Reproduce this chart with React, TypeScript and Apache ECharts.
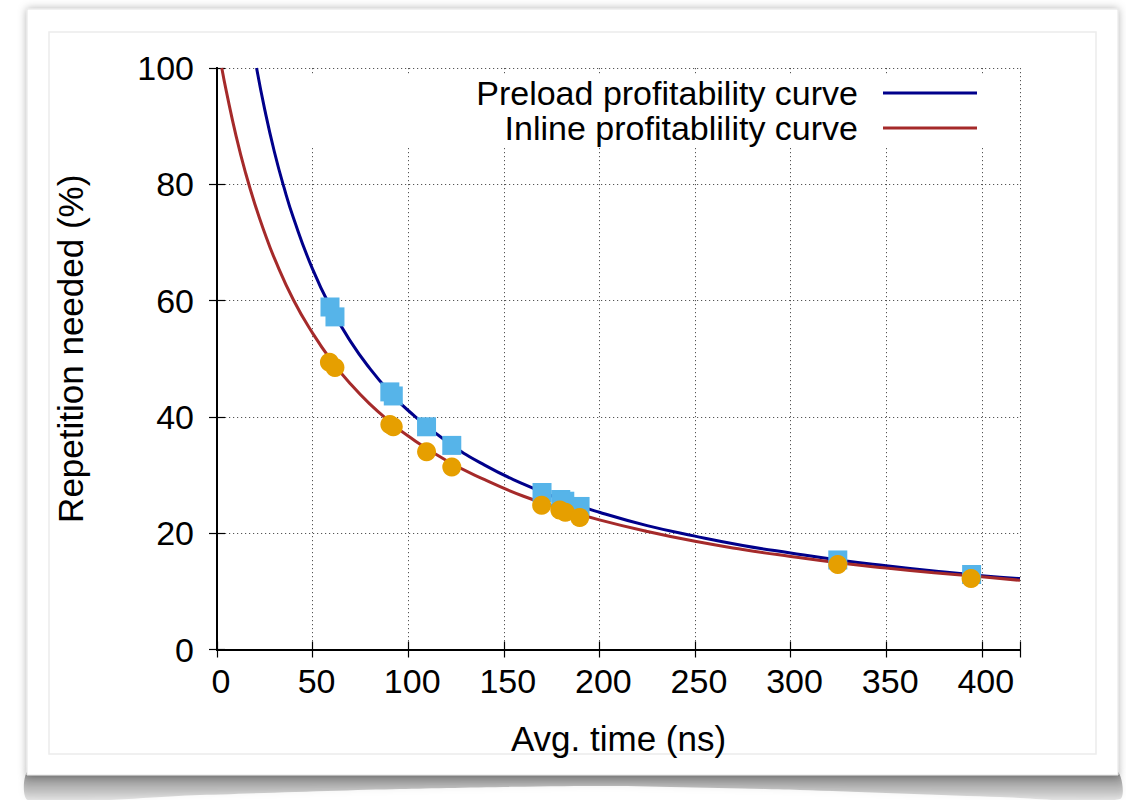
import React, { useEffect, useRef } from "react";
import * as echarts from "echarts";

// Profitability curves (x: avg. time in ns, y: repetition needed in %)
const preloadCurveX = [20.7, 25, 30, 35, 40, 50, 60, 70, 80, 90, 100, 120, 140, 160, 180, 200, 225, 250, 275, 300, 325, 350, 375, 400, 420];
const preloadCurveY = [100, 92.8, 85.6, 79.5, 74.2, 65.4, 58.5, 52.9, 48.3, 44.4, 41.1, 35.8, 31.7, 28.5, 25.8, 23.6, 21.3, 19.5, 17.9, 16.6, 15.4, 14.4, 13.5, 12.7, 12.2];
const inlineCurveX = [2.5, 5, 10, 15, 20, 25, 30, 40, 50, 60, 70, 80, 90, 100, 120, 140, 160, 180, 200, 225, 250, 275, 300, 325, 350, 375, 400, 420];
const inlineCurveY = [100, 95.8, 88.3, 81.9, 76.4, 71.6, 67.3, 60.1, 54.4, 49.6, 45.6, 42.2, 39.3, 36.7, 32.5, 29.2, 26.4, 24.2, 22.3, 20.3, 18.6, 17.2, 16.0, 14.9, 14.0, 13.2, 12.5, 11.9];

// Measured points
const preloadTimes = [59.1, 61.7, 90.4, 92.2, 109.6, 122.8, 170.0, 179.8, 181.9, 189.9, 324.7, 394.7];
const preloadNeeded = [58.9, 57.2, 44.3, 43.6, 38.3, 35.1, 27.0, 25.8, 25.5, 24.6, 15.4, 12.9];
const inlineTimes = [58.8, 61.7, 90.4, 92.2, 109.6, 122.8, 169.8, 179.3, 182.2, 189.7, 324.7, 394.4];
const inlineNeeded = [49.4, 48.5, 38.7, 38.3, 34.0, 31.4, 24.8, 24.0, 23.6, 22.7, 14.6, 12.2];

const seriesNames = ["Preload profitability curve", "Inline profitablility curve"];
const xRange = { min: 0, max: 420, step: 50 };
const yRange = { min: 0, max: 100, step: 20 };

const FONT = "'Liberation Sans', Arial, Helvetica, sans-serif";

const zip = (xs: number[], ys: number[]) => xs.map((x, i) => [x, ys[i]]);

export default function App() {
  const ref = useRef<HTMLDivElement>(null);

  useEffect(() => {
    document.body.style.margin = "0";
    const chart = echarts.init(ref.current!, undefined, { renderer: "svg" });

    const gridDash = { color: "#555", width: 1, type: [1.2, 2.8] as number[] };
    const frameLine = { show: true, lineStyle: { color: "#000", width: 2 } };
    const innerTick = { show: true, inside: true, length: 8, lineStyle: { color: "#000", width: 1.2 } };

    chart.setOption({
      animation: false,
      backgroundColor: "#fff",
      textStyle: { fontFamily: FONT },
      graphic: [
        {
          type: "polygon",
          z: -30,
          silent: true,
          shape: {
            points: [
              [30, 770], [1115, 770], [1120, 799], [1000, 797], [800, 790],
              [600, 786], [400, 789], [200, 795], [28, 800],
            ],
            smooth: 0.25,
          },
          style: {
            fill: new echarts.graphic.LinearGradient(0, 0, 0, 1, [
              { offset: 0, color: "rgba(0,0,0,0.5)" },
              { offset: 1, color: "rgba(0,0,0,0.08)" },
            ]),
            shadowBlur: 6,
            shadowColor: "rgba(0,0,0,0.25)",
          },
        },
        {
          type: "rect",
          z: -20,
          silent: true,
          shape: { x: 27, y: 9, width: 1091, height: 766 },
          style: {
            fill: "#fff",
            stroke: "#e4e4e4",
            lineWidth: 1,
            shadowBlur: 8,
            shadowColor: "rgba(0,0,0,0.3)",
          },
        },
        {
          type: "rect",
          z: -10,
          silent: true,
          shape: { x: 49, y: 32, width: 1047, height: 722 },
          style: { fill: "none", stroke: "#ececec", lineWidth: 1.5 },
        },
      ],
      grid: { left: 217, top: 68, width: 803, height: 581.5, containLabel: false },
      legend: {
        data: seriesNames,
        orient: "vertical",
        align: "right",
        right: 111,
        top: 76,
        icon: "rect",
        itemWidth: 94,
        itemHeight: 3,
        itemGap: 1,
        padding: [0, 38, 2, 176],
        backgroundColor: "#fff",
        selectedMode: false,
        textStyle: {
          fontFamily: FONT,
          fontSize: 34,
          color: "#000",
          lineHeight: 34,
          padding: [0, 20, 0, 0],
        },
      },
      xAxis: [
        {
          type: "value",
          position: "bottom",
          min: xRange.min,
          max: xRange.max,
          interval: xRange.step,
          axisLine: frameLine,
          axisTick: innerTick,
          splitLine: { show: true, lineStyle: gridDash },
          axisLabel: {
            fontFamily: FONT,
            fontSize: 34,
            color: "#000",
            margin: 14,
            padding: [0, 0, 0, 8],
            formatter: (v: number) => (v % xRange.step === 0 ? String(v) : ""),
          },
          name: "Avg. time (ns)",
          nameLocation: "middle",
          nameGap: 72,
          nameTextStyle: { fontFamily: FONT, fontSize: 35, color: "#000", lineHeight: 34 },
        },
        {
          type: "value",
          position: "top",
          min: xRange.min,
          max: xRange.max,
          interval: xRange.step,
          axisLine: frameLine,
          axisTick: innerTick,
          axisLabel: { show: false },
          splitLine: { show: false },
        },
      ],
      yAxis: [
        {
          type: "value",
          position: "left",
          min: yRange.min,
          max: yRange.max,
          interval: yRange.step,
          axisLine: frameLine,
          axisTick: innerTick,
          splitLine: { show: true, lineStyle: gridDash },
          axisLabel: { fontFamily: FONT, fontSize: 34, color: "#000", margin: 23 },
          name: "Repetition needed (%)",
          nameLocation: "middle",
          nameGap: 130,
          nameTextStyle: {
            fontFamily: FONT,
            fontSize: 35,
            color: "#000",
            lineHeight: 34,
            padding: [0, 0, 0, 20],
          },
        },
        {
          type: "value",
          position: "right",
          min: yRange.min,
          max: yRange.max,
          interval: yRange.step,
          axisLine: frameLine,
          axisTick: innerTick,
          axisLabel: { show: false },
          splitLine: { show: false },
        },
      ],
      series: [
        {
          name: seriesNames[0],
          type: "line",
          data: zip(preloadCurveX, preloadCurveY),
          smooth: true,
          symbol: "none",
          lineStyle: { color: "#00008b", width: 3 },
          itemStyle: { color: "#00008b" },
          z: 2,
        },
        {
          name: seriesNames[1],
          type: "line",
          data: zip(inlineCurveX, inlineCurveY),
          smooth: true,
          symbol: "none",
          lineStyle: { color: "#a52a2a", width: 3 },
          itemStyle: { color: "#a52a2a" },
          z: 2,
        },
        {
          name: "Preload measured",
          type: "scatter",
          data: zip(preloadTimes, preloadNeeded),
          symbol: "rect",
          symbolSize: 19,
          itemStyle: { color: "#56b4e9", opacity: 1 },
          z: 3,
        },
        {
          name: "Inline measured",
          type: "scatter",
          data: zip(inlineTimes, inlineNeeded),
          symbol: "circle",
          symbolSize: 19,
          itemStyle: { color: "#e69f00", opacity: 1 },
          z: 4,
        },
      ],
    });

    return () => chart.dispose();
  }, []);

  return <div ref={ref} style={{ width: 1126, height: 800 }} />;
}
